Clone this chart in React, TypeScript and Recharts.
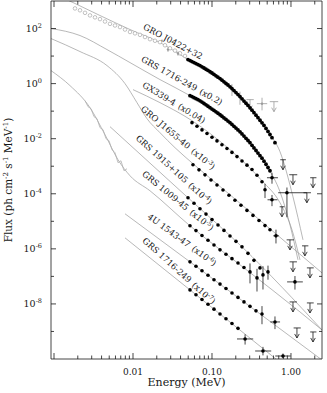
import React from 'react';
import { ComposedChart, XAxis, YAxis, Scatter, Line, ErrorBar } from 'recharts';

const FONT = '"DejaVu Serif", "Liberation Serif", serif';
const INK = '#161616';
const GRAY = '#9a9a9a';
const MODEL = '#9a9a9a';

// ---------- axes ----------
const X_DOMAIN = [9.16e-4, 2.47];
const Y_DOMAIN = [1e-10, 1e3];
const xTickValues = [
  0.001, 0.002, 0.003, 0.004, 0.005, 0.006, 0.007, 0.008, 0.009,
  0.01, 0.02, 0.03, 0.04, 0.05, 0.06, 0.07, 0.08, 0.09,
  0.1, 0.2, 0.3, 0.4, 0.5, 0.6, 0.7, 0.8, 0.9, 1, 2,
];
const xLabelValues = [0.01, 0.1, 1];
const xLabelTexts = ['0.01', '0.10', '1.00'];
const yTickValues = [1e-9, 1e-8, 1e-7, 1e-6, 1e-5, 1e-4, 1e-3, 1e-2, 1e-1, 1, 10, 100];
const yLabelExponents = [-8, -6, -4, -2, 0, 2];

// ---------- data: [E (MeV), flux] ----------
// GRO J0422+32
const j0422Open = [
  [1.844e-3, 538], [2.134e-3, 460], [2.469e-3, 372], [2.855e-3, 300], [3.304e-3, 255], [3.822e-3, 220],
  [4.421e-3, 180], [5.115e-3, 148], [5.918e-3, 129], [6.847e-3, 113], [7.92e-3, 92], [9.163e-3, 75],
  [0.0106, 66.9], [0.01226, 59], [0.01419, 49.1], [0.01641, 41], [0.01899, 36], [0.02197, 32],
  [0.02542, 24.7], [0.0294, 19.2], [0.03401, 15.8], [0.03935, 12.6], [0.04552, 10.1],
];
const j0422Dots = [
  [0.0497, 7.46], [0.0528, 6.85], [0.0558, 6.31], [0.0592, 5.8], [0.0627, 5.34], [0.0665, 4.9], [0.0705, 4.51],
  [0.0747, 4.08], [0.0792, 3.69], [0.0839, 3.33], [0.089, 3.02], [0.0944, 2.7], [0.1, 2.43], [0.106, 2.16],
  [0.1123, 1.92], [0.119, 1.71], [0.1263, 1.52], [0.134, 1.33], [0.1418, 1.16], [0.1504, 1.01], [0.1594, 0.889],
  [0.169, 0.765], [0.1791, 0.658], [0.1899, 0.56], [0.2012, 0.471], [0.2134, 0.4], [0.2262, 0.337],
  [0.2398, 0.28], [0.2541, 0.233], [0.2694, 0.194], [0.2856, 0.161], [0.3027, 0.132], [0.3209, 0.1087],
  [0.3401, 0.088], [0.3606, 0.0715], [0.3822, 0.058], [0.4052, 0.0467], [0.4295, 0.0376], [0.4553, 0.0304],
  [0.4826, 0.0236], [0.5116, 0.0183], [0.5422, 0.0142], [0.5748, 0.01087], [0.6272, 0.00715],
];
const j0422GrayErr = [
  [0.02773, 17.2, 0, 0, 3, 3.5], [0.03712, 12.33, 0, 0, 2, 2.5], [0.179, 0.605, 0, 0, 0.25, 0.35],
  [0.226, 0.31, 0, 0, 0.14, 0.2], [0.43, 0.187, 0.06, 0.07, 0.08, 0.12],
];
const j0422GrayUL = [[0.303, 0.262, 0.03, 0.035], [0.609, 0.221, 0.07, 0.08]];
const j0422UL = [[0.792, 1.72e-3, 0.06, 0.07]];
const j0422Model = [
  [1.191e-3, 1457], [1.844e-3, 811], [3.822e-3, 297], [9.163e-3, 92], [0.02197, 31], [0.0497, 7.46],
  [0.1263, 1.52], [0.3027, 0.134], [0.5116, 0.018], [0.7261, 3.37e-3], [1.06, 7.78e-5], [1.419, 2.12e-6],
];

// GRS 1716-249 (x0.2)
const grs1716aDots = [
  [0.05266, 0.3662], [0.0559, 0.337], [0.0592, 0.3097], [0.0628, 0.285], [0.06651, 0.2619], [0.0705, 0.237],
  [0.0747, 0.2143], [0.0792, 0.19], [0.08394, 0.1694], [0.089, 0.151], [0.09434, 0.134], [0.1, 0.119],
  [0.106, 0.106], [0.1123, 0.0942], [0.1191, 0.0839], [0.1263, 0.074], [0.1338, 0.06525], [0.1418, 0.057],
  [0.1504, 0.0499], [0.1594, 0.0437], [0.169, 0.03819], [0.1791, 0.0329], [0.1899, 0.02824], [0.2012, 0.0243],
  [0.2134, 0.02089], [0.2262, 0.0177], [0.2398, 0.01494], [0.2541, 0.0124], [0.2694, 0.01034],
  [0.2856, 8.6e-3], [0.3027, 7.153e-3], [0.3209, 5.75e-3], [0.3401, 4.628e-3], [0.3606, 3.72e-3],
  [0.3822, 2.995e-3], [0.4052, 2.42e-3], [0.4295, 1.954e-3], [0.4553, 1.52e-3], [0.4826, 1.182e-3],
  [0.5116, 9.0e-4], [0.5422, 6.86e-4],
];
const grs1716aErr = [[0.5748, 3.82e-4, 0.078, 0.109, 1.5e-4, 2.0e-4]];
const grs1716aUL = [[1.06, 4.91e-4, 0.11, 0.14], [1.9, 3.82e-4, 0.15, 0.2]];
const grs1716aModel = [
  [9.16e-4, 100], [2.134e-3, 55.7], [4.688e-3, 17.2], [9.163e-3, 5.8], [0.02197, 1.398], [0.05266, 0.3662],
  [0.1263, 0.07459], [0.3027, 7.153e-3], [0.5116, 8.82e-4], [0.7261, 1.182e-4], [0.9712, 7.46e-6], [1.226, 3.98e-7],
];

// GX339-4 (x0.04)
const gx339Dots = [
  [0.05583, 0.03819], [0.06457, 0.02824], [0.0747, 0.02089], [0.08644, 0.01545], [0.1, 0.01134],
  [0.1157, 8.318e-3], [0.1338, 6.05e-3], [0.1548, 4.4e-3], [0.1791, 3.176e-3], [0.2072, 2.234e-3],
  [0.2398, 1.558e-3], [0.2773, 1.096e-3], [0.3209, 7.59e-4], [0.3713, 4.71e-4], [0.4295, 2.73e-4],
];
const gx339Err = [
  [0.469, 1.4e-4, 0, 0, 7e-5, 9e-5], [0.5748, 6.05e-5, 0.07, 0.1, 2.5e-5, 3e-5], [0.889, 1.09e-4, 0.2, 0.7, 9.5e-5, 6e-5],
];
const gx339UL = [[0.769, 3.37e-5, 0.05, 0.06], [1.59, 1.09e-4, 0.15, 0.2]];
const gx339Model = [
  [0.01, 0.605], [0.02197, 0.2037], [0.05583, 0.04512], [0.169, 3.98e-3], [0.4295, 2.97e-4],
  [0.7261, 4.71e-5], [1.03, 4.91e-6], [1.3, 3.98e-7],
];

// GRO J1655-40 (x10^-3)
const j1655Dots = [
  [0.05745, 1.134e-3], [0.06845, 7.4e-4], [0.08153, 4.87e-4], [0.09712, 3.176e-4], [0.1157, 2.089e-4],
  [0.1378, 1.363e-4], [0.1641, 8.89e-5], [0.1955, 5.85e-5], [0.2329, 3.819e-5], [0.2773, 2.49e-5],
  [0.3304, 1.639e-5], [0.3935, 1.069e-5], [0.4688, 6.98e-6], [0.5422, 4.91e-6],
];
const j1655Err = [[0.6457, 2.97e-6, 0.05, 0.06, 1.4e-6, 2e-6]];
const j1655UL = [[0.971, 2.12e-6, 0.09, 0.12], [1.5, 1.285e-6, 0.12, 0.16]];
const j1655Model = [
  [9.16e-4, 43.3], [2.134e-3, 14.6], [4.688e-3, 4.51], [7.92e-3, 1.0], [0.01123, 0.2037], [0.01503, 0.05337],
  [0.02197, 0.01652], [0.03401, 4.71e-3], [0.05745, 1.233e-3], [0.169, 9.2e-5], [0.5422, 5.34e-6], [2.469, 1.34e-7],
];

// GRS 1915+105 (x10^-4)
const grs1915Dots = [
  [0.0497, 7.153e-5], [0.0592, 4.55e-5], [0.07047, 2.872e-5], [0.08394, 1.827e-5], [0.1, 1.153e-5],
  [0.1191, 7.34e-6], [0.1418, 4.67e-6], [0.169, 2.945e-6], [0.2012, 1.874e-6], [0.2398, 1.182e-6],
  [0.2856, 6.86e-7], [0.3401, 3.819e-7], [0.4052, 2.037e-7],
];
const grs1915Err = [[0.5116, 1.458e-7, 0, 0, 7e-8, 1e-7]];
const grs1915UL = [[1.06, 3.37e-7, 0.1, 0.13], [1.74, 2.037e-7, 0.15, 0.2]];
const grs1915Model = [[5.115e-3, 0.02732], [0.0497, 7.153e-5], [0.2398, 1.182e-6], [2.469, 1.134e-9]];

// GRS 1009-45 (x10^-5)
const grs1009Gray = [
  [2.469e-3, 0.2409], [2.694e-3, 0.1458], [2.94e-3, 0.1233], [3.209e-3, 0.0631], [3.501e-3, 0.05337],
  [3.822e-3, 0.02512], [4.172e-3, 0.02125], [4.552e-3, 0.01], [4.968e-3, 8.46e-3], [5.422e-3, 3.98e-3],
  [5.918e-3, 3.097e-3], [6.458e-3, 1.34e-3], [7.047e-3, 1.585e-3], [7.691e-3, 6.86e-4], [8.394e-3, 8.11e-4],
];
const grs1009Dots = [
  [0.05266, 6.86e-6], [0.0627, 4.59e-6], [0.0747, 3.07e-6], [0.08899, 2.054e-6], [0.106, 1.374e-6],
  [0.1263, 9.2e-7], [0.1504, 6.36e-7], [0.1791, 4.4e-7], [0.2134, 3.045e-7], [0.2541, 2.107e-7],
];
const grs1009Err = [
  [0.3027, 1.458e-7, 0, 0, 9e-8, 1.5e-7], [0.3713, 8.82e-8, 0, 0, 6e-8, 1e-7],
  [0.4421, 1.134e-7, 0, 0, 8e-8, 1.2e-7], [1.123, 6.31e-8, 0.23, 0.29, 3e-8, 4e-8],
];
const grs1009UL = [[1.06, 1.182e-8, 0.1, 0.13], [1.74, 1.087e-8, 0.15, 0.2]];
const grs1009Model = [
  [9.16e-4, 2.97], [1.594e-3, 0.846], [2.855e-3, 0.134], [4.421e-3, 0.01398], [6.46e-3, 1.723e-3],
  [9.163e-3, 4.51e-4], [0.01641, 1.285e-4], [0.05266, 6.86e-6], [0.2541, 2.037e-7], [1.3, 5.12e-9], [2.469, 1.134e-9],
];

// 4U 1543-47 (x10^-6)
const u1543Dots = [
  [0.05266, 3.37e-7], [0.0627, 2.33e-7], [0.0747, 1.598e-7], [0.08899, 1.105e-7], [0.106, 7.59e-8],
  [0.1263, 5.25e-8], [0.1504, 3.63e-8], [0.1791, 2.49e-8], [0.2134, 1.723e-8], [0.2541, 1.182e-8],
  [0.3027, 8.18e-9], [0.3606, 5.61e-9],
];
const u1543Err = [[0.4295, 4.33e-9, 0, 0, 2.5e-9, 4e-9], [0.6272, 2.215e-9, 0.08, 0.1, 1e-9, 1.3e-9]];
const u1543UL = [[1.19, 1.34e-9, 0.11, 0.14], [1.9, 9.59e-10, 0.15, 0.2]];
const u1543Model = [[7.92e-3, 1.874e-5], [0.05266, 3.37e-7], [2.469, 9.2e-11]];

// GRS 1716-249 (x10^-7)
const grs1716bDots = [
  [0.05266, 3.229e-8], [0.0627, 2.16e-8], [0.0747, 1.445e-8], [0.08899, 9.67e-9], [0.106, 6.47e-9],
  [0.1263, 4.33e-9], [0.1504, 2.896e-9], [0.1791, 1.937e-9], [0.2134, 1.296e-9],
];
const grs1716bErr = [
  [0.2624, 5.34e-10, 0.055, 0.07, 2e-10, 2.5e-10], [0.4421, 1.954e-10, 0.09, 0.12, 6e-11, 8e-11],
  [0.7923, 1.285e-10, 0.16, 0.2, 2e-11, 3e-11],
];
const grs1716bUL = [];
const grs1716bModel = [[7.92e-3, 2.512e-6], [0.05266, 3.229e-8], [0.6457, 1e-10]];

// labels: anchor [E, flux]
const labelNames = [
  'GRO J0422+32', 'GRS 1716-249', 'GX339-4', 'GRO J1655-40',
  'GRS 1915+105', 'GRS 1009-45', '4U 1543-47', 'GRS 1716-249',
];
const labelFactors = ['', '(x0.2)', '(x0.04)', '(x10', '(x10', '(x10', '(x10', '(x10'];
const labelExponents = ['', '', '', '-3', '-4', '-5', '-6', '-7'];
const labelAnchors = [
  [0.03208, 33.7], [0.04173, 1.285], [0.03304, 0.2037], [0.03712, 0.01087],
  [0.03304, 7.46e-4], [0.03712, 5.56e-5], [0.04173, 2.125e-6], [0.03822, 1.585e-7],
];
const labelAngles = [28, 29, 31, 40, 42, 39, 36, 42];

// ---------- helpers ----------
const toPts = (arr) => arr.map((p) => ({ x: p[0], y: p[1] }));
const toErr = (arr) => arr.map((p) => ({ x: p[0], y: p[1], ex: [p[2], p[3]], ey: [p[4], p[5]] }));
const toUL = (arr) => arr.map((p) => ({ x: p[0], y: p[1], ex: [p[2], p[3]] }));

const isDecade = (v) => {
  const l = Math.log10(v);
  return Math.abs(l - Math.round(l)) < 1e-6;
};
const near = (a, b) => Math.abs(a - b) <= Math.abs(b) * 1e-6;

function BottomTick(props) {
  const { x, y, payload } = props;
  const v = payload.value;
  const len = isDecade(v) ? 6 : 3.5;
  const idx = xLabelValues.findIndex((t) => near(v, t));
  return (
    <g>
      <line x1={x} y1={y} x2={x} y2={y - len} stroke={INK} strokeWidth={0.8} />
      {idx >= 0 && (
        <text x={x} y={y + 16} textAnchor="middle" fontFamily={FONT} fontSize={9} fill={INK}>
          {xLabelTexts[idx]}
        </text>
      )}
    </g>
  );
}
function TopTick(props) {
  const { x, y, payload } = props;
  const len = isDecade(payload.value) ? 6 : 3.5;
  return <line x1={x} y1={y} x2={x} y2={y + len} stroke={INK} strokeWidth={0.8} />;
}
function LeftTick(props) {
  const { x, y, payload } = props;
  const e = Math.round(Math.log10(payload.value));
  const labeled = yLabelExponents.includes(e);
  const len = labeled ? 5 : 3;
  return (
    <g>
      <line x1={x} y1={y} x2={x + len} y2={y} stroke={INK} strokeWidth={0.8} />
      {labeled && (
        <text x={x - 9} y={y + 3.5} textAnchor="end" fontFamily={FONT} fontSize={9.5} fill={INK}>
          10<tspan dy={-4.5} fontSize={6.5}>{String(e)}</tspan>
        </text>
      )}
    </g>
  );
}
function RightTick(props) {
  const { x, y, payload } = props;
  const e = Math.round(Math.log10(payload.value));
  const len = e % 2 === 0 ? 5 : 3;
  return <line x1={x} y1={y} x2={x - len} y2={y} stroke={INK} strokeWidth={0.8} />;
}

function YTitle(props) {
  const vb = props.viewBox || { x: 0, y: 0, width: 51, height: 358 };
  const cx = vb.x + 12;
  const cy = vb.y + vb.height / 2;
  return (
    <text x={cx} y={cy} transform={`rotate(-90 ${cx} ${cy})`} textAnchor="middle" fontFamily={FONT} fontSize={10.5} fill={INK}>
      Flux (ph cm<tspan dy={-4} fontSize={7}>-2</tspan>
      <tspan dy={4}> s</tspan>
      <tspan dy={-4} fontSize={7}>-1</tspan>
      <tspan dy={4}> MeV</tspan>
      <tspan dy={-4} fontSize={7}>-1</tspan>
      <tspan dy={4}>)</tspan>
    </text>
  );
}
function XTitle(props) {
  const vb = props.viewBox || { x: 51, y: 359, width: 271, height: 34 };
  return (
    <text x={vb.x + vb.width / 2} y={vb.y + 27} textAnchor="middle" fontFamily={FONT} fontSize={11} fill={INK}>
      Energy (MeV)
    </text>
  );
}

const dotShape = (r, fill) => (p) => <circle cx={p.cx} cy={p.cy} r={r} fill={fill} />;
const openShape = (p) => <circle cx={p.cx} cy={p.cy} r={1.8} fill="#fff" stroke={GRAY} strokeWidth={0.6} />;
const ulShape = (color) => (p) => (
  <g>
    <line x1={p.cx} y1={p.cy} x2={p.cx} y2={p.cy + 10} stroke={color} strokeWidth={0.8} />
    <path d={`M${p.cx - 2.3},${p.cy + 6} L${p.cx},${p.cy + 10} L${p.cx + 2.3},${p.cy + 6}`} fill="none" stroke={color} strokeWidth={0.8} />
  </g>
);
const labelShape = (p) => {
  const d = p.payload;
  const a = d.angle;
  return (
    <text
      x={p.cx}
      y={p.cy}
      transform={`rotate(${a} ${p.cx} ${p.cy})`}
      textAnchor="middle"
      dominantBaseline="central"
      fontFamily={FONT}
      fontSize={8.5}
      fill={INK}
    >
      {d.name}
      {d.factor ? <tspan dx={4}>{d.factor}</tspan> : null}
      {d.exp ? <tspan dy={-3} fontSize={6}>{d.exp}</tspan> : null}
      {d.exp ? <tspan dy={3}>)</tspan> : null}
    </text>
  );
};

const labelData = labelNames.map((n, i) => ({
  x: labelAnchors[i][0],
  y: labelAnchors[i][1],
  name: n,
  factor: labelFactors[i],
  exp: labelExponents[i],
  angle: labelAngles[i],
}));

const seriesList = [
  { key: 'j0422', dots: j0422Dots, err: [], ul: j0422UL, model: j0422Model },
  { key: 'grs1716a', dots: grs1716aDots, err: grs1716aErr, ul: grs1716aUL, model: grs1716aModel },
  { key: 'gx339', dots: gx339Dots, err: gx339Err, ul: gx339UL, model: gx339Model },
  { key: 'j1655', dots: j1655Dots, err: j1655Err, ul: j1655UL, model: j1655Model },
  { key: 'grs1915', dots: grs1915Dots, err: grs1915Err, ul: grs1915UL, model: grs1915Model },
  { key: 'grs1009', dots: grs1009Dots, err: grs1009Err, ul: grs1009UL, model: grs1009Model },
  { key: 'u1543', dots: u1543Dots, err: u1543Err, ul: u1543UL, model: u1543Model },
  { key: 'grs1716b', dots: grs1716bDots, err: grs1716bErr, ul: grs1716bUL, model: grs1716bModel },
];

const thick = { j0422: 1.9, grs1716a: 1.9 };

export default function App() {
  const models = seriesList.map((s) => (
    <Line
      key={`m-${s.key}`}
      data={toPts(s.model)}
      dataKey="y"
      type="monotone"
      stroke={MODEL}
      strokeWidth={0.7}
      dot={false}
      activeDot={false}
      isAnimationActive={false}
    />
  ));
  const dots = seriesList.map((s) => (
    <Scatter
      key={`d-${s.key}`}
      data={toPts(s.dots)}
      shape={dotShape(thick[s.key] || 1.8, '#000')}
      isAnimationActive={false}
    />
  ));
  const errs = seriesList
    .filter((s) => s.err.length > 0)
    .map((s) => (
      <Scatter key={`e-${s.key}`} data={toErr(s.err)} shape={dotShape(1.8, '#000')} isAnimationActive={false}>
        <ErrorBar dataKey="ex" direction="x" width={0} stroke={INK} strokeWidth={0.8} isAnimationActive={false} />
        <ErrorBar dataKey="ey" direction="y" width={0} stroke={INK} strokeWidth={0.8} isAnimationActive={false} />
      </Scatter>
    ));
  const uls = seriesList
    .filter((s) => s.ul.length > 0)
    .map((s) => (
      <Scatter key={`u-${s.key}`} data={toUL(s.ul)} shape={ulShape(INK)} isAnimationActive={false}>
        <ErrorBar dataKey="ex" direction="x" width={0} stroke={INK} strokeWidth={0.8} isAnimationActive={false} />
      </Scatter>
    ));

  return (
    <div style={{ position: 'absolute', left: 0, top: 0, background: '#fff' }}>
      <ComposedChart width={327} height={393} margin={{ top: 0, right: 4, bottom: 0, left: 0 }}>
        <XAxis
          dataKey="x"
          type="number"
          scale="log"
          domain={X_DOMAIN}
          allowDataOverflow
          ticks={xTickValues}
          interval={0}
          tickSize={0}
          tickMargin={0}
          tickLine={false}
          tick={<BottomTick />}
          height={34}
          axisLine={{ stroke: INK, strokeWidth: 0.8 }}
          label={{ content: (p) => <XTitle {...p} /> }}
        />
        <XAxis
          xAxisId="top"
          orientation="top"
          dataKey="x"
          type="number"
          scale="log"
          domain={X_DOMAIN}
          allowDataOverflow
          ticks={xTickValues}
          interval={0}
          tickSize={0}
          tickMargin={0}
          tickLine={false}
          tick={<TopTick />}
          height={1}
          axisLine={{ stroke: INK, strokeWidth: 0.8 }}
        />
        <YAxis
          dataKey="y"
          type="number"
          scale="log"
          domain={Y_DOMAIN}
          allowDataOverflow
          ticks={yTickValues}
          interval={0}
          tickSize={0}
          tickMargin={0}
          tickLine={false}
          tick={<LeftTick />}
          width={51}
          axisLine={{ stroke: INK, strokeWidth: 0.8 }}
          label={{ content: (p) => <YTitle {...p} /> }}
        />
        <YAxis
          yAxisId="right"
          orientation="right"
          dataKey="y"
          type="number"
          scale="log"
          domain={Y_DOMAIN}
          allowDataOverflow
          ticks={yTickValues}
          interval={0}
          tickSize={0}
          tickMargin={0}
          tickLine={false}
          tick={<RightTick />}
          width={1}
          axisLine={{ stroke: INK, strokeWidth: 0.8 }}
        />
        {models}
        <Line
          data={toPts(grs1009Gray)}
          dataKey="y"
          type="linear"
          stroke="#b0b0b0"
          strokeWidth={0.8}
          dot={false}
          activeDot={false}
          isAnimationActive={false}
        />
        <Scatter data={toPts(j0422Open)} shape={openShape} isAnimationActive={false} />
        <Scatter data={toErr(j0422GrayErr)} shape={dotShape(1.2, GRAY)} isAnimationActive={false}>
          <ErrorBar dataKey="ex" direction="x" width={0} stroke={GRAY} strokeWidth={0.8} isAnimationActive={false} />
          <ErrorBar dataKey="ey" direction="y" width={0} stroke={GRAY} strokeWidth={0.8} isAnimationActive={false} />
        </Scatter>
        <Scatter data={toUL(j0422GrayUL)} shape={ulShape(GRAY)} isAnimationActive={false}>
          <ErrorBar dataKey="ex" direction="x" width={0} stroke={GRAY} strokeWidth={0.8} isAnimationActive={false} />
        </Scatter>
        {dots}
        {errs}
        {uls}
        <Scatter data={labelData} shape={labelShape} isAnimationActive={false} />
      </ComposedChart>
    </div>
  );
}
